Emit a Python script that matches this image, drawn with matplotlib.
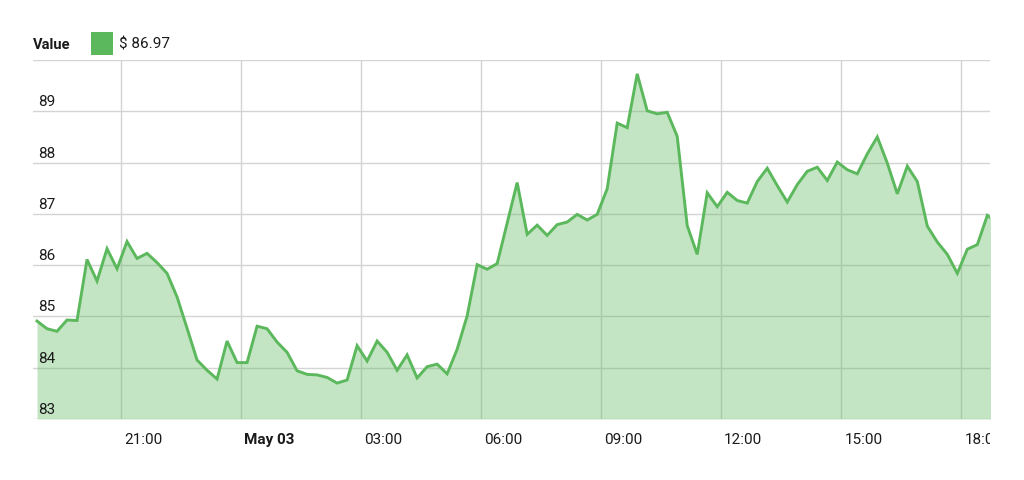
import matplotlib

matplotlib.use("Agg")

import matplotlib.pyplot as plt
import pandas as pd
from matplotlib.patches import Rectangle
from matplotlib.transforms import Bbox, ScaledTranslation, TransformedBbox, blended_transform_factory

GREEN = "#5cb85c"
GRID = "#d4d4d4"
INK = "#1a1a1a"

# price every 15 minutes
VALUES = [
    84.91, 84.76, 84.71, 84.93, 84.92, 86.11, 85.69, 86.32, 85.93, 86.46,
    86.13, 86.23, 86.05, 85.84, 85.38, 84.77, 84.15, 83.95, 83.78, 84.52,
    84.10, 84.10, 84.81, 84.76, 84.50, 84.30, 83.94, 83.87, 83.86, 83.81,
    83.70, 83.76, 84.43, 84.13, 84.52, 84.30, 83.95, 84.25, 83.80, 84.02,
    84.07, 83.88, 84.36, 85.01, 86.01, 85.92, 86.03, 86.82, 87.61, 86.60,
    86.78, 86.58, 86.79, 86.84, 86.99, 86.88, 86.99, 87.49, 88.77, 88.68,
    89.73, 89.01, 88.95, 88.98, 88.51, 86.77, 86.21, 87.41, 87.14, 87.42,
    87.26, 87.21, 87.63, 87.89, 87.55, 87.23, 87.57, 87.83, 87.91, 87.65,
    88.01, 87.86, 87.78, 88.17, 88.50, 87.99, 87.39, 87.93, 87.63, 86.76,
    86.45, 86.21, 85.84, 86.31, 86.40, 86.97, 86.83,
]
TIMES = pd.date_range("2017-05-02 18:54", periods=len(VALUES), freq="15min")
X_RANGE = pd.to_datetime(["2017-05-02 18:48", "2017-05-03 18:43"])
X_TICKS = pd.to_datetime([
    "2017-05-02 21:00", "2017-05-03 00:00", "2017-05-03 03:00", "2017-05-03 06:00",
    "2017-05-03 09:00", "2017-05-03 12:00", "2017-05-03 15:00", "2017-05-03 18:00",
])
X_LABELS = ["21:00", "May 03", "03:00", "06:00", "09:00", "12:00", "15:00", "18:00"]
Y_TICKS = [83, 84, 85, 86, 87, 88, 89, 90]
LEGEND_NAME = "Value"
LEGEND_VALUE = "$ 86.97"

plt.rcParams["font.family"] = ["Roboto", "DejaVu Sans"]

W, H = 1024, 481
fig = plt.figure(figsize=(W / 100, H / 100), dpi=100)
ax = fig.add_axes([33 / W, 61 / H, (990 - 33) / W, (420 - 61) / H])

ax.fill_between(TIMES, VALUES, 83, color=GREEN, alpha=0.36, linewidth=0, zorder=2)
ax.plot(TIMES, VALUES, color=GREEN, linewidth=2.1, solid_joinstyle="miter", zorder=3)

ax.set_xlim(X_RANGE[0], X_RANGE[1])
ax.set_ylim(Y_TICKS[0], Y_TICKS[-1])
ax.set_xticks(X_TICKS)
ax.set_yticks(Y_TICKS)
ax.set_xticklabels([])
ax.set_yticklabels([])
ax.tick_params(length=0)
ax.grid(True, color=GRID, linewidth=1.0, zorder=1)
ax.set_axisbelow(True)
for s in ax.spines.values():
    s.set_visible(False)

# y labels sit inside the plot, just above their gridline
ytr = blended_transform_factory(ax.transAxes, ax.transData)
for v in Y_TICKS[:-1]:
    ax.text(0.005, v, str(v), transform=ytr + ScaledTranslation(0, 3 / 100, fig.dpi_scale_trans),
            ha="left", va="bottom", fontsize=11, color=INK)

# x labels hang to the right of their gridline, last one cut at plot edge
clip = TransformedBbox(Bbox([[0, 0], [990 / W, 1]]), fig.transFigure)
xtr = blended_transform_factory(ax.transData, ax.transAxes)
for t, lab in zip(X_TICKS, X_LABELS):
    txt = ax.text(t, 0, lab, transform=xtr + ScaledTranslation(3 / 100, -20 / 100, fig.dpi_scale_trans),
                  ha="left", va="center", fontsize=11, color=INK,
                  fontweight="bold" if lab.startswith("May") else "normal")
    txt.set_clip_on(True)
    txt.set_clip_box(clip)

# legend row
fig.text(33 / W, 1 - 45 / H, LEGEND_NAME, ha="left", va="center", fontsize=10.5, fontweight="bold", color=INK)
fig.patches.append(Rectangle((91 / W, 1 - 56 / H), 22 / W, 23 / H, transform=fig.transFigure,
                             facecolor=GREEN, edgecolor="none"))
fig.text(119 / W, 1 - 45 / H, LEGEND_VALUE, ha="left", va="center", fontsize=11, color=INK)

fig.savefig("out.png", dpi=100, facecolor="white")
plt.close(fig)
